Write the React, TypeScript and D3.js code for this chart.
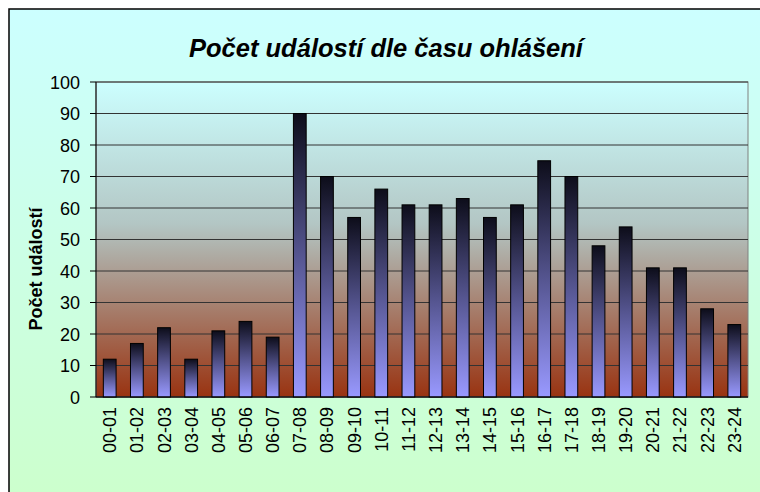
import React from "react";
import * as d3 from "d3";

const hours = [
  "00-01", "01-02", "02-03", "03-04", "04-05", "05-06", "06-07", "07-08",
  "08-09", "09-10", "10-11", "11-12", "12-13", "13-14", "14-15", "15-16",
  "16-17", "17-18", "18-19", "19-20", "20-21", "21-22", "22-23", "23-24",
];
const counts = [12, 17, 22, 12, 21, 24, 19, 90, 70, 57, 66, 61, 61, 63, 57, 61, 75, 70, 48, 54, 41, 41, 28, 23];
const yTicks = [0, 10, 20, 30, 40, 50, 60, 70, 80, 90, 100];

const W = 760;
const H = 492;
const plot = { left: 96, right: 748, top: 82, bottom: 397 };
const font = "'Liberation Sans', Arial, sans-serif";

export default function App() {
  const x = d3.scaleBand<string>()
    .domain(hours)
    .range([plot.left, plot.right])
    .paddingInner(0.53)
    .paddingOuter(0.27);
  const y = d3.scaleLinear().domain([0, 100]).range([plot.bottom, plot.top]);

  return (
    <div style={{ position: "absolute", left: 0, top: 0 }}>
      <svg width={W} height={H} style={{ display: "block" }}>
        <defs>
          <linearGradient id="outerBg" x1="0" y1="0" x2="0" y2="1">
            <stop offset="0" stopColor="#ccffff" />
            <stop offset="1" stopColor="#ccffcc" />
          </linearGradient>
          <linearGradient id="plotBg" x1="0" y1="0" x2="0" y2="1">
            <stop offset="0" stopColor="#ccffff" />
            <stop offset="0.45" stopColor="#b3c6c4" />
            <stop offset="1" stopColor="#993311" />
          </linearGradient>
          <linearGradient id="barFill" x1="0" y1="0" x2="0" y2="1">
            <stop offset="0" stopColor="#0d0d1a" />
            <stop offset="0.5" stopColor="#555590" />
            <stop offset="1" stopColor="#9999ff" />
          </linearGradient>
        </defs>

        {/* chart area */}
        <rect x={9} y={9} width={W} height={H} fill="url(#outerBg)" stroke="#000" strokeWidth={1.5} />

        <text x={386} y={57} textAnchor="middle" fontFamily={font} fontSize={25.5}
          fontWeight="bold" fontStyle="italic" fill="#000">
          Počet událostí dle času ohlášení
        </text>

        {/* plot area */}
        <rect x={plot.left} y={plot.top} width={plot.right - plot.left} height={plot.bottom - plot.top}
          fill="url(#plotBg)" stroke="#808080" strokeWidth={1} />

        {yTicks.map(t => (
          <g key={t}>
            <line x1={plot.left} x2={plot.right} y1={y(t)} y2={y(t)} stroke="#333" strokeWidth={1} />
            <line x1={plot.left - 6} x2={plot.left} y1={y(t)} y2={y(t)} stroke="#000" />
            <text x={plot.left - 16} y={y(t) + 6.5} textAnchor="end" fontFamily={font} fontSize={18} fill="#000">{t}</text>
          </g>
        ))}

        {counts.map((v, i) => (
          <rect key={hours[i]} x={x(hours[i])} y={y(v)} width={x.bandwidth()} height={y(0) - y(v)}
            fill="url(#barFill)" stroke="#000" strokeWidth={1} />
        ))}

        <line x1={plot.left} x2={plot.left} y1={plot.top} y2={plot.bottom} stroke="#000" />
        <line x1={plot.left} x2={plot.right} y1={plot.bottom} y2={plot.bottom} stroke="#000" />

        {hours.map(h => {
          const cx = (x(h) ?? 0) + x.bandwidth() / 2;
          return (
            <text key={h} transform={`translate(${cx + 6.5},407) rotate(-90)`} textAnchor="end"
              fontFamily={font} fontSize={18} fill="#000">{h}</text>
          );
        })}

        <text transform="translate(42,269) rotate(-90)" textAnchor="middle" fontFamily={font}
          fontSize={18} fontWeight="bold" fill="#000">Počet událostí</text>
      </svg>
    </div>
  );
}
